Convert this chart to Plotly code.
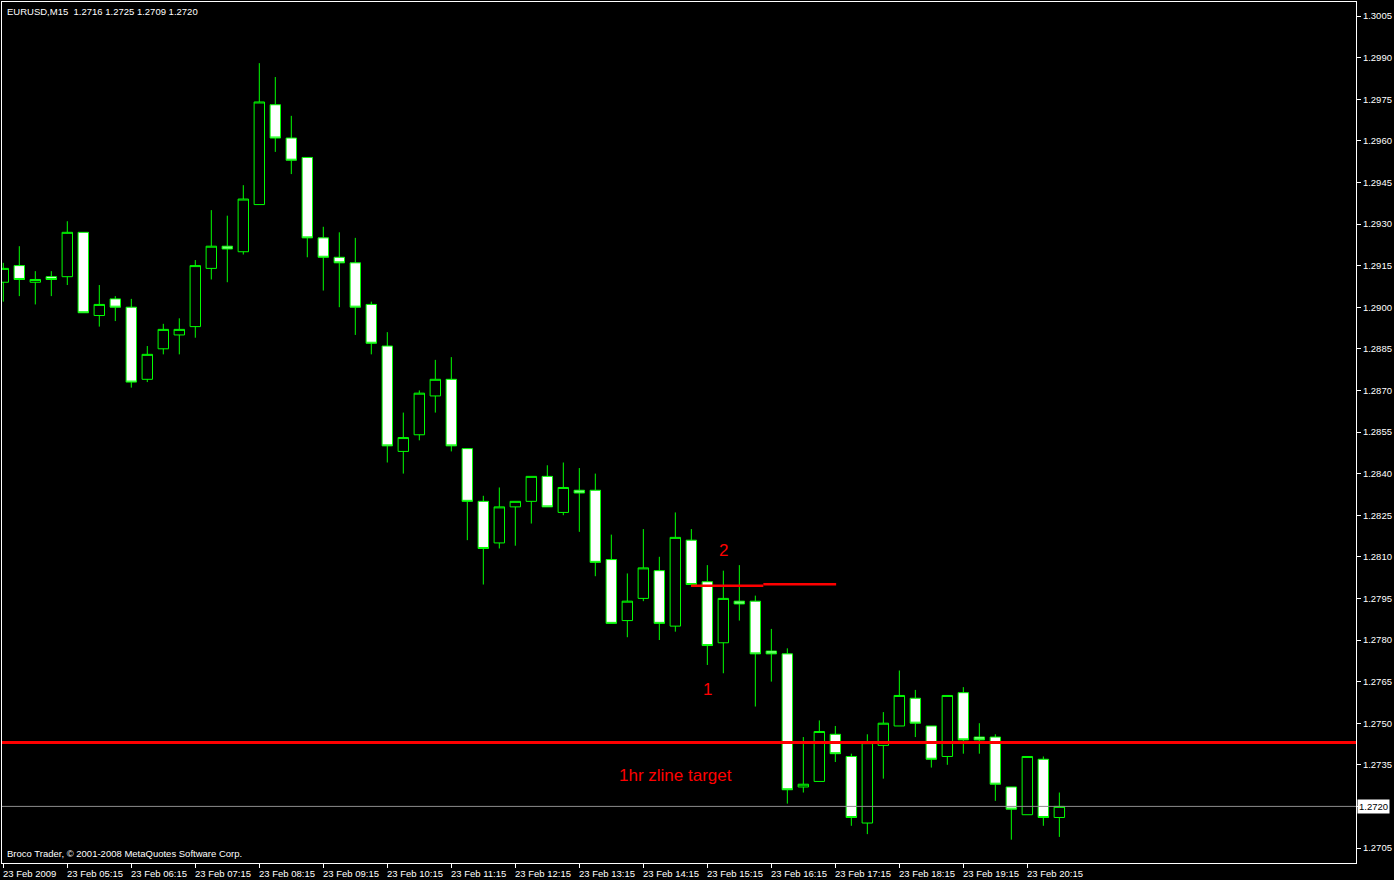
import plotly.graph_objects as go

# ---- data (EURUSD M15, 23 Feb 2009, bars from 04:15) ----
time_labels = ["23 Feb 2009", "23 Feb 05:15", "23 Feb 06:15", "23 Feb 07:15", "23 Feb 08:15",
               "23 Feb 09:15", "23 Feb 10:15", "23 Feb 11:15", "23 Feb 12:15", "23 Feb 13:15",
               "23 Feb 14:15", "23 Feb 15:15", "23 Feb 16:15", "23 Feb 17:15", "23 Feb 18:15",
               "23 Feb 19:15", "23 Feb 20:15"]
label_bars = [0, 4, 8, 12, 16, 20, 24, 28, 32, 36, 40, 44, 48, 52, 56, 60, 64]

opens = [1.2909, 1.2915, 1.2909, 1.2911, 1.2911, 1.2927, 1.2897, 1.2903, 1.2900, 1.2874,
         1.2885, 1.2890, 1.2893, 1.2914, 1.2922, 1.2920, 1.2937, 1.2973, 1.2961, 1.2954,
         1.2925, 1.2918, 1.2916, 1.2901, 1.2886, 1.2848, 1.2854, 1.2868, 1.2874, 1.2849,
         1.2830, 1.2815, 1.2828, 1.2830, 1.2839, 1.2826, 1.2834, 1.2834, 1.2809, 1.2787,
         1.2795, 1.2805, 1.2785, 1.2816, 1.2801, 1.2779, 1.2794, 1.2794, 1.2776, 1.2775,
         1.2727, 1.2729, 1.2746, 1.2738, 1.2714, 1.2742, 1.2749, 1.2759, 1.2749, 1.2738,
         1.2761, 1.2745, 1.2745, 1.2727, 1.2717, 1.2737, 1.2716]
highs = [1.2916, 1.2922, 1.2913, 1.2913, 1.2931, 1.2927, 1.2908, 1.2904, 1.2903, 1.2886,
         1.2894, 1.2896, 1.2917, 1.2935, 1.2933, 1.2944, 1.2988, 1.2983, 1.2969, 1.2954,
         1.2929, 1.2927, 1.2925, 1.2902, 1.2891, 1.2862, 1.2870, 1.2881, 1.2882, 1.2849,
         1.2832, 1.2835, 1.2830, 1.2839, 1.2843, 1.2844, 1.2842, 1.2840, 1.2818, 1.2804,
         1.2820, 1.2810, 1.2826, 1.2820, 1.2807, 1.2805, 1.2807, 1.2796, 1.2784, 1.2777,
         1.2745, 1.2751, 1.2749, 1.2739, 1.2746, 1.2754, 1.2769, 1.2762, 1.2749, 1.2760,
         1.2763, 1.2750, 1.2746, 1.2727, 1.2738, 1.2738, 1.2725]
lows = [1.2902, 1.2904, 1.2901, 1.2904, 1.2908, 1.2898, 1.2893, 1.2895, 1.2871, 1.2873,
        1.2883, 1.2883, 1.2889, 1.2910, 1.2909, 1.2919, 1.2937, 1.2956, 1.2948, 1.2918,
        1.2906, 1.2900, 1.2890, 1.2883, 1.2844, 1.2840, 1.2852, 1.2862, 1.2848, 1.2816,
        1.2800, 1.2813, 1.2814, 1.2822, 1.2828, 1.2825, 1.2819, 1.2803, 1.2786, 1.2781,
        1.2794, 1.2780, 1.2783, 1.2800, 1.2771, 1.2768, 1.2787, 1.2756, 1.2765, 1.2721,
        1.2725, 1.2729, 1.2736, 1.2713, 1.2710, 1.2730, 1.2749, 1.2745, 1.2734, 1.2735,
        1.2739, 1.2739, 1.2722, 1.2708, 1.2717, 1.2713, 1.2709]
closes = [1.2914, 1.2910, 1.2910, 1.2910, 1.2927, 1.2898, 1.2901, 1.2900, 1.2873, 1.2883,
          1.2892, 1.2892, 1.2915, 1.2922, 1.2921, 1.2939, 1.2974, 1.2961, 1.2953, 1.2925,
          1.2918, 1.2916, 1.2900, 1.2887, 1.2850, 1.2853, 1.2869, 1.2874, 1.2850, 1.2830,
          1.2813, 1.2828, 1.2830, 1.2839, 1.2828, 1.2835, 1.2833, 1.2808, 1.2786, 1.2794,
          1.2806, 1.2786, 1.2817, 1.2800, 1.2778, 1.2795, 1.2793, 1.2775, 1.2775, 1.2726,
          1.2728, 1.2747, 1.2739, 1.2716, 1.2743, 1.2750, 1.2760, 1.2750, 1.2737, 1.2760,
          1.2744, 1.2744, 1.2728, 1.2719, 1.2738, 1.2716, 1.2720]

zline_target = 1.2743
level_2_left = 1.27996
level_2_right = 1.28001
bid_price = 1.2720
price_ticks = [round(1.2705 + 0.0015 * i, 4) for i in range(21)]

bars = list(range(len(opens)))

GREEN = "#00ff00"
RED = "#ff0000"
FONT = "Liberation Sans"

fig = go.Figure()

# bid line
fig.add_trace(go.Scatter(x=[-5, 100], y=[bid_price, bid_price], mode="lines",
                         line=dict(color="#8c8c8c", width=1), hoverinfo="skip", showlegend=False))
# 1hr zline target
fig.add_trace(go.Scatter(x=[-5, 100], y=[zline_target, zline_target], mode="lines",
                         line=dict(color=RED, width=3), hoverinfo="skip", showlegend=False))
# short red level near "2"
fig.add_trace(go.Scatter(x=[42.98, 47.5], y=[level_2_left, level_2_left], mode="lines",
                         line=dict(color=RED, width=2.5), hoverinfo="skip", showlegend=False))
fig.add_trace(go.Scatter(x=[47.5, 52.05], y=[level_2_right, level_2_right], mode="lines",
                         line=dict(color=RED, width=2.5), hoverinfo="skip", showlegend=False))

fig.add_trace(go.Candlestick(
    x=bars, open=opens, high=highs, low=lows, close=closes,
    increasing=dict(line=dict(color=GREEN, width=1), fillcolor="#000000"),
    decreasing=dict(line=dict(color=GREEN, width=1), fillcolor="#ffffff"),
    whiskerwidth=0, showlegend=False, hoverinfo="skip"))

annotations = []
for b, t in zip(label_bars, time_labels):
    annotations.append(dict(x=b, y=0, xref="x", yref="paper", text=t, showarrow=False,
                            xanchor="left", yanchor="top", xshift=-2, yshift=-3,
                            font=dict(family=FONT, size=9.5, color="white")))
annotations += [
    dict(x=0, y=1, xref="paper", yref="paper", text="EURUSD,M15  1.2716 1.2725 1.2709 1.2720",
         showarrow=False, xanchor="left", yanchor="top", xshift=3, yshift=-2,
         font=dict(family=FONT, size=9.5, color="white")),
    dict(x=0, y=0, xref="paper", yref="paper",
         text="Broco Trader, © 2001-2008 MetaQuotes Software Corp.",
         showarrow=False, xanchor="left", yanchor="bottom", xshift=3, yshift=2,
         font=dict(family=FONT, size=9.5, color="white")),
    dict(x=44.98, y=1.28121, xref="x", yref="y", text="2", showarrow=False,
         font=dict(family=FONT, size=17, color=RED)),
    dict(x=43.98, y=1.27623, xref="x", yref="y", text="1", showarrow=False,
         font=dict(family=FONT, size=17, color=RED)),
    dict(x=42.04, y=1.27313, xref="x", yref="y", text="1hr zline target", showarrow=False,
         font=dict(family=FONT, size=17, color=RED)),
    dict(x=1, y=bid_price, xref="paper", yref="y", text="1.2720", showarrow=False,
         xanchor="left", xshift=1, bgcolor="white", borderpad=1,
         font=dict(family=FONT, size=9.5, color="black")),
]

# the bid price tick label is shown by the highlighted annotation instead
tick_text = ["" if abs(v - bid_price) < 1e-9 else f"{v:.4f}" for v in price_ticks]

fig.update_layout(
    width=1394, height=880,
    paper_bgcolor="black", plot_bgcolor="black",
    margin=dict(l=2, r=38, t=2, b=17, autoexpand=False),
    boxgap=0.35, boxgroupgap=0,
    showlegend=False,
    annotations=annotations,
    xaxis=dict(range=[-0.081, 84.54], showgrid=False, zeroline=False,
               rangeslider=dict(visible=False),
               tickmode="array", tickvals=label_bars, showticklabels=False,
               ticks="outside", ticklen=4, tickcolor="white",
               showline=True, linecolor="white", linewidth=1, mirror=True),
    yaxis=dict(range=[1.269959, 1.301005], side="right", showgrid=False, zeroline=False,
               tickmode="array", tickvals=price_ticks, ticktext=tick_text,
               ticks="outside", ticklen=4, tickcolor="white",
               tickfont=dict(family=FONT, size=9.5, color="white"),
               showline=True, linecolor="white", linewidth=1, mirror=True),
)

fig.write_html("out.html", config={"displayModeBar": False},
               post_script="document.body.style.margin='0';document.body.style.background='black';")
